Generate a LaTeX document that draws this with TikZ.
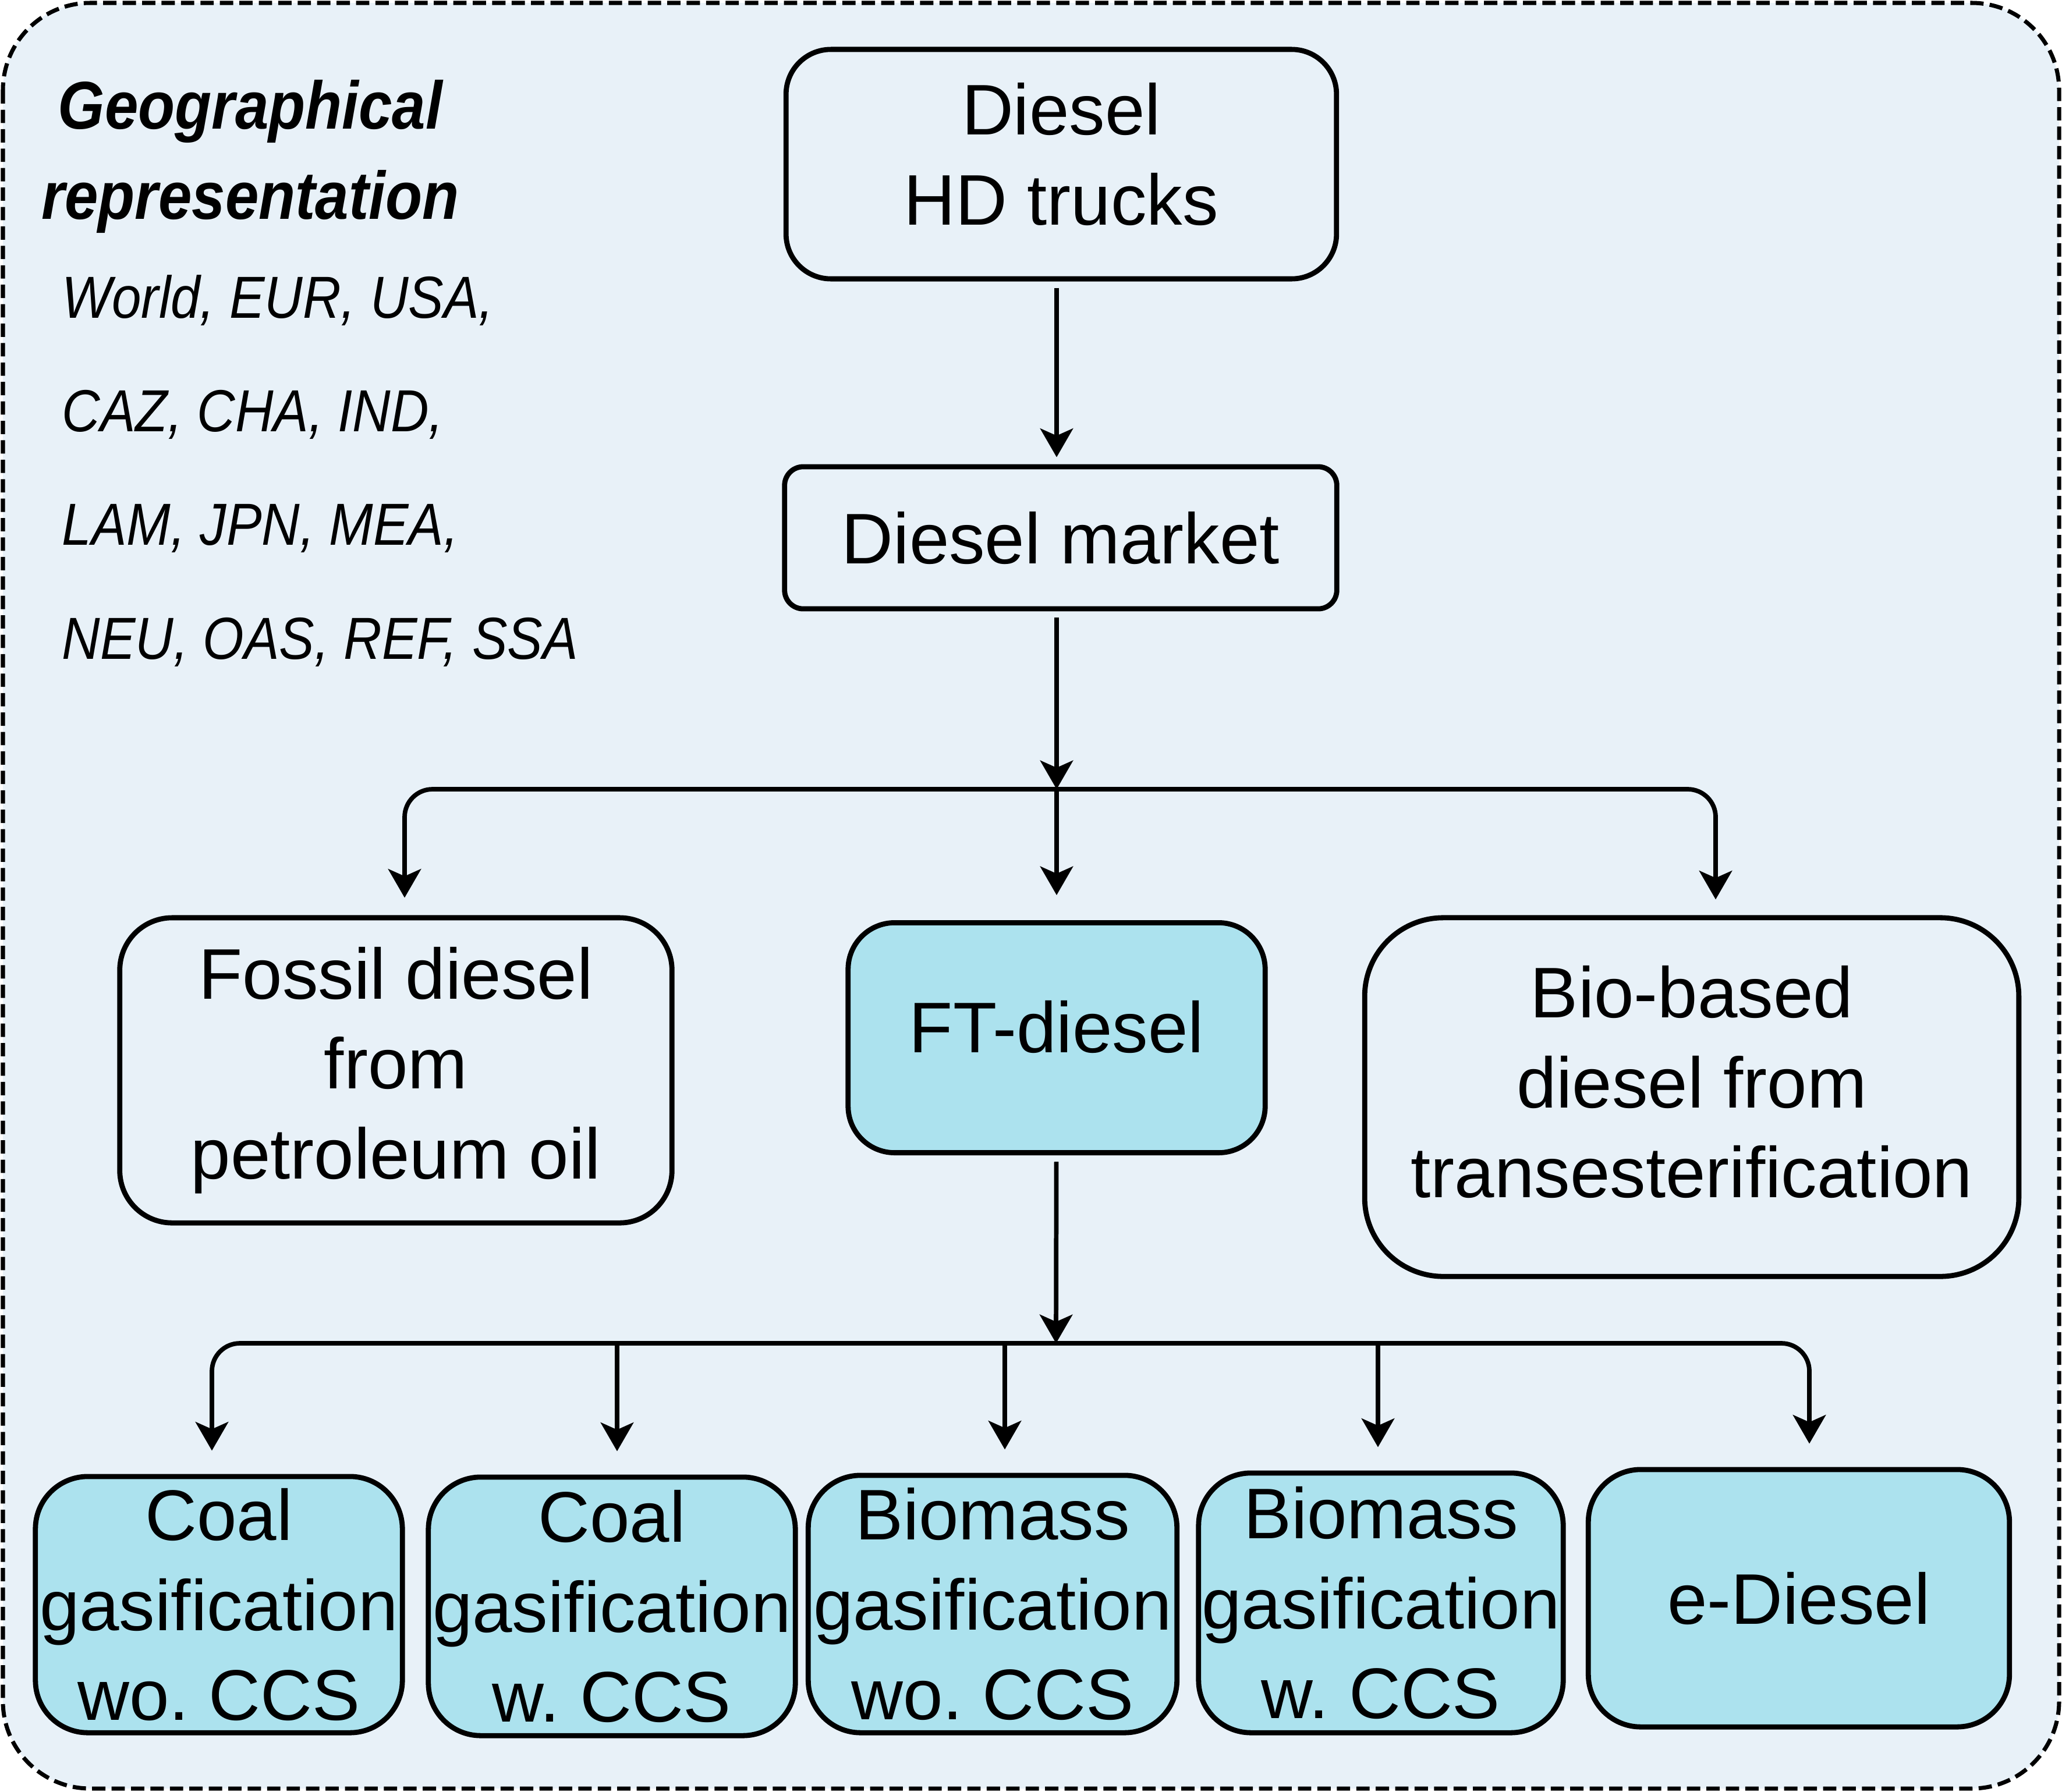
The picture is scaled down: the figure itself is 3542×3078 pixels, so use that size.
\documentclass[tikz,border=0pt]{standalone}
\usepackage{fontspec}
\setmainfont{Liberation Sans}
\newfontfamily\condfont[FakeStretch=0.89]{Liberation Sans}
\usetikzlibrary{arrows.meta}
\definecolor{panelbg}{RGB}{232,241,248}
\definecolor{ftcyan}{RGB}{172,226,238}
\tikzset{
  box/.style={draw, line width=2.5pt, align=center, inner sep=0pt,
    font=\fontsize{35}{44}\selectfont},
  ftbox/.style={box, fill=ftcyan},
  arr/.style={line width=2.2pt, -{Stealth[length=14pt, width=16pt, inset=3.5pt]}},
}
\begin{document}
\frenchspacing
\begin{tikzpicture}[x=0.01cm, y=-0.01cm]
  \useasboundingbox (0,0) rectangle (3542,3078);
  \draw[dash pattern=on 6.5pt off 3pt, line width=2pt, rounded corners=1.5cm, fill=panelbg]
    (5,5) rectangle (3537,3073);
  % regions
  \node[font=\fontsize{33}{43.8}\selectfont\condfont\bfseries\itshape, align=center, inner sep=0pt]
    (geo) at (430,269) {Geographical\\representation};
  \node[anchor=north west, align=left, inner sep=0pt, font=\fontsize{29}{55.5}\selectfont\condfont\itshape]
    (regions) at (106,472) {World, EUR, USA,\\CAZ, CHA, IND,\\LAM, JPN, MEA,\\NEU, OAS, REF, SSA};
  % upper part
  \node[box, rounded corners=0.77cm, minimum width=9.45cm, minimum height=3.94cm] (trucks) at (1823,282)
    {Diesel\\HD trucks\rule[-10pt]{0pt}{10pt}};
  \node[box, rounded corners=0.32cm, minimum width=9.48cm, minimum height=2.44cm] (market) at (1822,924)
    {Diesel market};
  \node[box, rounded corners=0.9cm, minimum width=9.48cm, minimum height=5.24cm] (fossil) at (680,1839)
    {Fossil diesel\\from\\petroleum oil};
  \node[ftbox, rounded corners=0.8cm, minimum width=7.16cm, minimum height=3.95cm] (ftd) at (1815,1783)
    {FT-diesel\rule[-11pt]{0pt}{11pt}};
  \node[box, rounded corners=1.35cm, minimum width=11.23cm, minimum height=6.16cm] (bio) at (2906,1885)
    {Bio-based\\diesel from\\transesterification\rule[-15pt]{0pt}{15pt}};
  % FT-diesel routes
  \node[ftbox, rounded corners=0.9cm, minimum width=6.3cm, minimum height=4.4cm] (coalwo) at (376,2757)
    {Coal\\gasification\\wo. CCS};
  \node[ftbox, rounded corners=0.9cm, minimum width=6.3cm, minimum height=4.44cm] (coalw) at (1051,2760)
    {Coal\\gasification\\w. CCS};
  \node[ftbox, rounded corners=0.9cm, minimum width=6.33cm, minimum height=4.42cm] (biowo) at (1705,2756)
    {Biomass\\gasification\\wo. CCS};
  \node[ftbox, rounded corners=0.9cm, minimum width=6.26cm, minimum height=4.46cm] (biow) at (2372,2754)
    {Biomass\\gasification\\w. CCS};
  \node[ftbox, rounded corners=0.9cm, minimum width=7.23cm, minimum height=4.42cm] (ediesel) at (3090,2746)
    {e-Diesel};
  \coordinate (bar1) at (1815,1356);
  \coordinate (bar2) at (1814,2308);
  % connectors
  \draw[arr, shorten <=0.11cm, shorten >=0.12cm] (trucks.south -| bar1) -- (market.north -| bar1);
  \draw[arr, shorten <=0.11cm] (market.south -| bar1) -- (bar1);
  \draw[arr, rounded corners=0.48cm, shorten >=0.3cm] (bar1) -| ([xshift=0.15cm]fossil.north);
  \draw[arr, shorten >=0.43cm] (bar1) -- (ftd);
  \draw[arr, rounded corners=0.48cm, shorten >=0.27cm] (bar1) -| ([xshift=0.41cm]bio.north);
  \draw[arr, shorten <=0.11cm] (ftd) -- (bar2);
  \draw[arr, rounded corners=0.48cm, shorten >=0.4cm] (bar2) -| ([xshift=-0.12cm]coalwo.north);
  \draw[arr, rounded corners=0.48cm, shorten >=0.4cm] (bar2) -| ([xshift=0.18cm]ediesel.north);
  \foreach \n/\dx in {coalw/0.09, biowo/0.21, biow/-0.05}
    \draw[arr, shorten >=0.4cm] (bar2) -| ([xshift=\dx cm]\n.north);
\end{tikzpicture}
\end{document}
